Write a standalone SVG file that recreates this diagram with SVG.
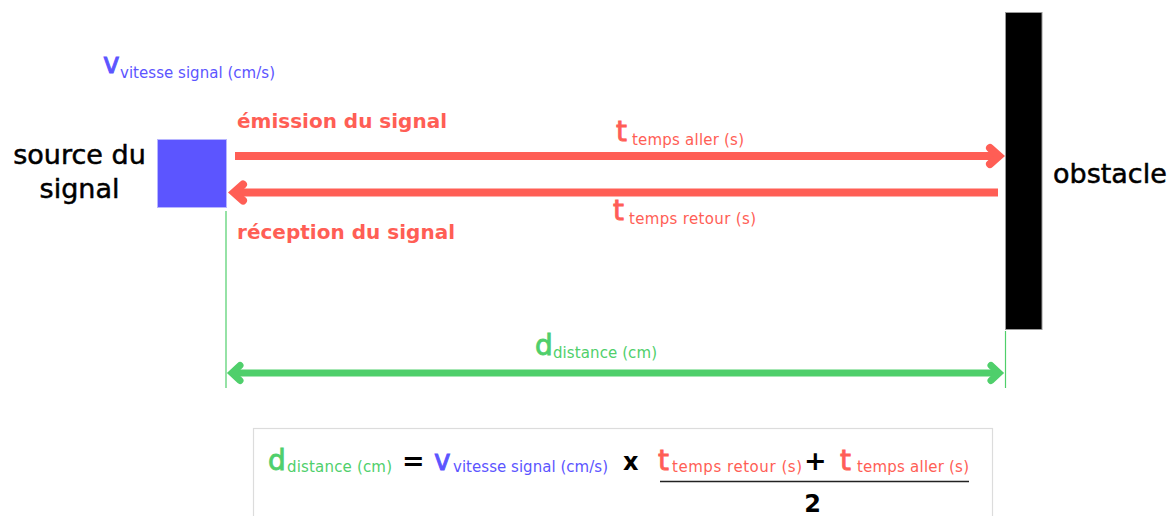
<svg xmlns="http://www.w3.org/2000/svg" width="1176" height="516" viewBox="0 0 1176 516">
<style>
text{font-family:"DejaVu Sans","Liberation Sans",sans-serif;}
.lbl{font-size:27px;fill:#000;stroke:#000;stroke-width:0.5;}
.big{font-size:28px;stroke-width:0.9;}
.sub{font-size:15px;}
.red{fill:#ff5e55;}
.blue{fill:#5c55ff;}
.green{fill:#4fcf6b;}
.big.red{stroke:#ff5e55;}
.big.blue{stroke:#5c55ff;}
.big.green{stroke:#4fcf6b;}
.bold{font-weight:bold;font-size:20px;}
.rl{stroke:#ff5e55;stroke-width:8;fill:none;}
.gl{stroke:#4fcf6b;stroke-width:7;fill:none;}
.gt{stroke:#4fcf6b;stroke-width:1.2;fill:none;}
</style>
<rect width="1176" height="516" fill="#fff"/>
<g id="source">
<rect x="157.5" y="139.5" width="69" height="68" fill="#5c55ff" stroke="#b8b6ff" stroke-width="1"/>
<text class="lbl" x="79.5" y="164" text-anchor="middle">source du</text>
<text class="lbl" x="79.5" y="198" text-anchor="middle">signal</text>
</g>
<g id="obstacle">
<rect x="1005.5" y="12.5" width="36.5" height="317" fill="#000" stroke="#999" stroke-width="1"/>
<text class="lbl" x="1053" y="183">obstacle</text>
</g>
<g id="vitesse">
<text x="103" y="73"><tspan class="big blue">v</tspan><tspan class="sub blue" x="120" y="78" textLength="155">vitesse signal (cm/s)</tspan></text>
</g>
<g id="labels">
<text class="bold red" x="237" y="128" textLength="210">émission du signal</text>
<text class="bold red" x="237" y="239" textLength="218">réception du signal</text>
<text x="616" y="141"><tspan class="big red">t</tspan><tspan class="sub red" x="632" y="145" textLength="112">temps aller (s)</tspan></text>
<text x="613" y="220"><tspan class="big red">t</tspan><tspan class="sub red" x="629" y="224" textLength="127">temps retour (s)</tspan></text>
<text x="535" y="355"><tspan class="big green">d</tspan><tspan class="sub green" x="553" y="358" textLength="104">distance (cm)</tspan></text>
</g>
<g id="connectors">
<path class="rl" d="M235 156H997"/>
<path class="rl" stroke-width="6" stroke-linecap="round" d="M990 148L999 156L990 164"/>
<path class="rl" d="M998 192.5H236"/>
<path class="rl" stroke-width="6" stroke-linecap="round" d="M243 184.5L234 192.5L243 200.5"/>
<path class="gt" d="M226 211V388"/>
<path class="gt" d="M1005.5 331V388"/>
<path class="gl" d="M234 373H997"/>
<path class="gl" stroke-width="5.5" stroke-linecap="round" d="M240 365.5L232 373L240 380.5"/>
<path class="gl" stroke-width="5.5" stroke-linecap="round" d="M991 365.5L999 373L991 380.5"/>
</g>
<g id="formula">
<rect x="253.5" y="428.5" width="739" height="100" fill="none" stroke="#dcdcdc" stroke-width="1.2"/>
<text x="268" y="470"><tspan class="big green">d</tspan><tspan class="sub green" x="287" y="472" textLength="105">distance (cm)</tspan></text>
<text x="402" y="470" font-size="27" font-weight="bold" fill="#000">=</text>
<text x="434" y="470"><tspan class="big blue">v</tspan><tspan class="sub blue" x="453" y="472" textLength="155">vitesse signal (cm/s)</tspan></text>
<text x="623" y="470" font-size="24" font-weight="bold" fill="#000">x</text>
<text x="658" y="470"><tspan class="big red">t</tspan><tspan class="sub red" x="672" y="472" textLength="130">temps retour (s)</tspan></text>
<text x="804" y="470" font-size="27" font-weight="bold" fill="#000">+</text>
<text x="840" y="470"><tspan class="big red">t</tspan><tspan class="sub red" x="857" y="472" textLength="112">temps aller (s)</tspan></text>
<path d="M660 481.5H969" stroke="#222" stroke-width="1.5"/>
<text x="812.5" y="512" font-size="24" font-weight="bold" text-anchor="middle" fill="#000">2</text>
</g>
</svg>
